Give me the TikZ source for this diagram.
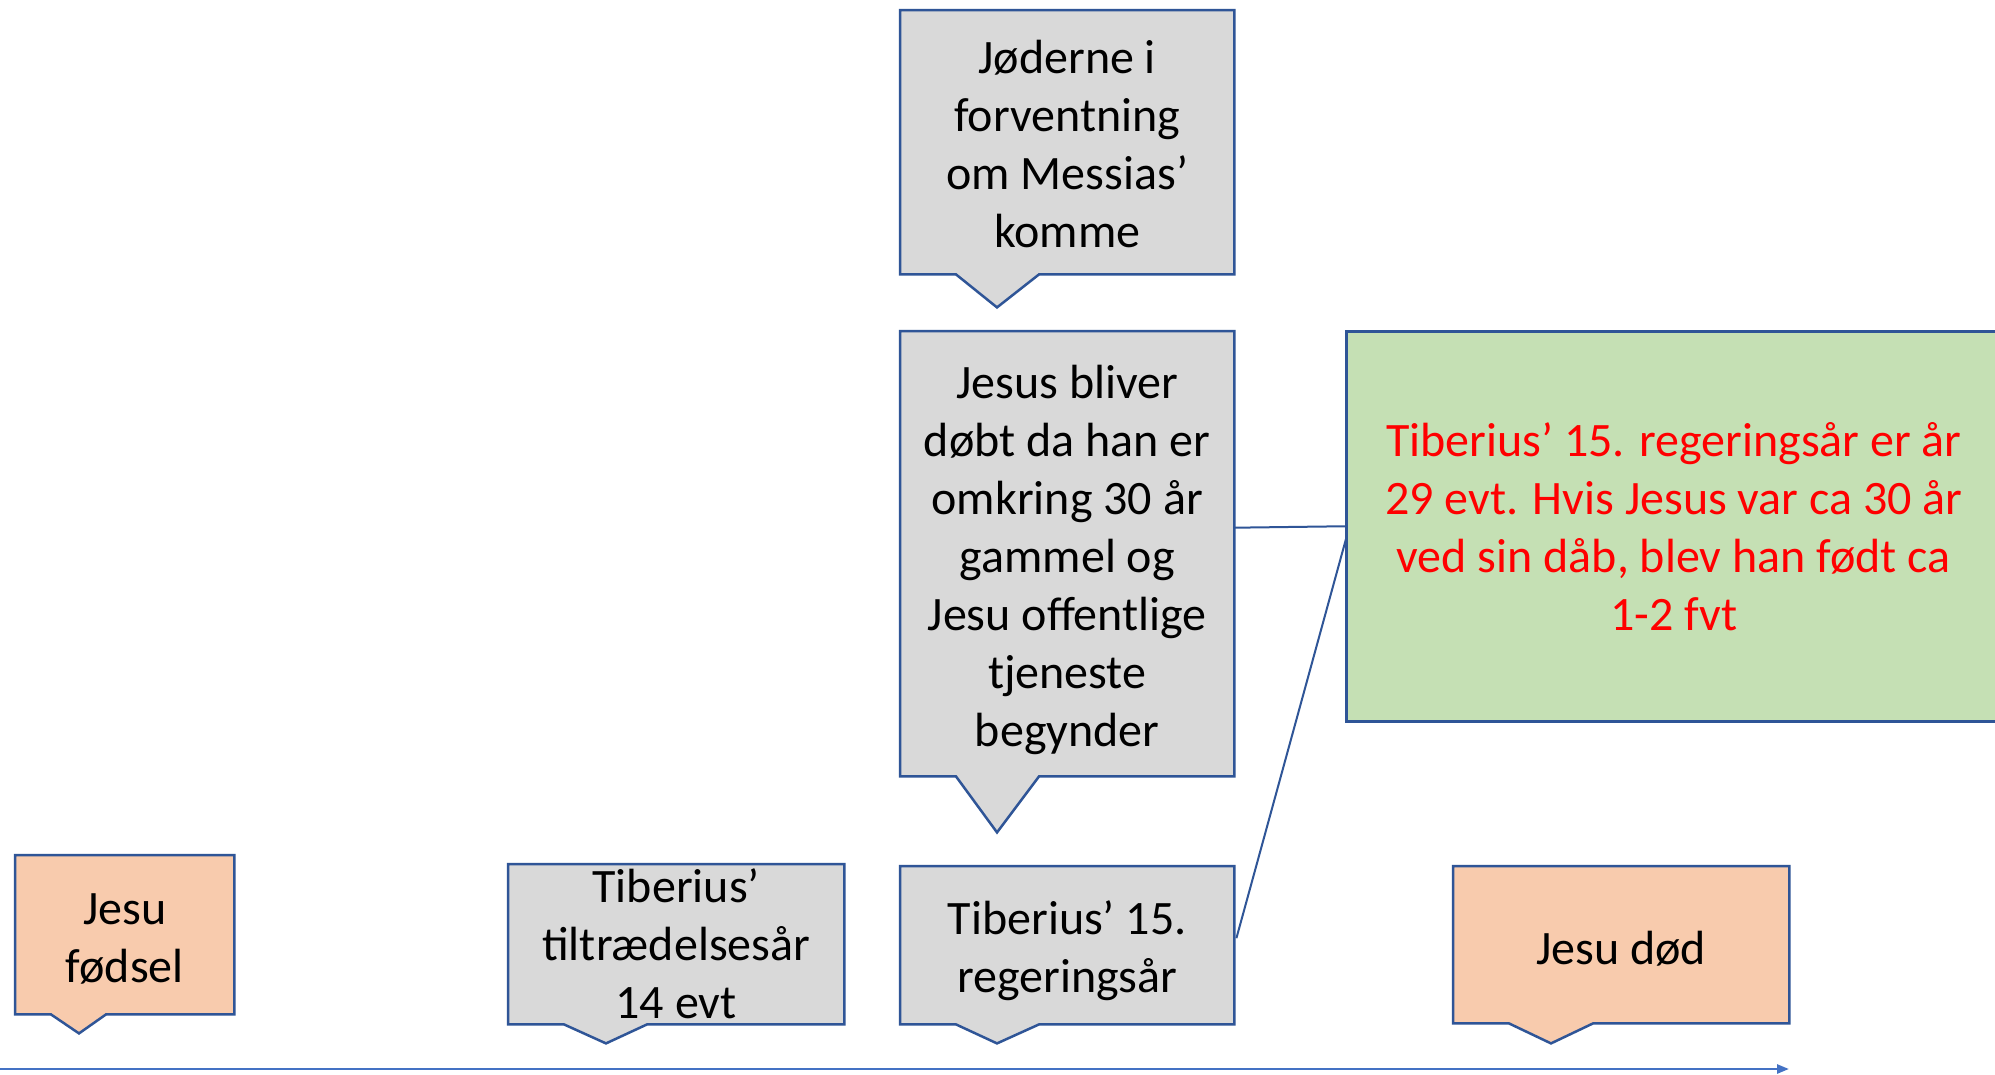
\documentclass[tikz,border=0pt]{standalone}
\usepackage{fontspec}
\setmainfont{Carlito}
\usetikzlibrary{calc,arrows.meta,backgrounds}
\definecolor{bord}{HTML}{2F5597}
\definecolor{gfill}{HTML}{D9D9D9}
\definecolor{pfill}{HTML}{F8CBAD}
\definecolor{grfill}{HTML}{C5E0B4}
\definecolor{axiscol}{HTML}{4472C4}
\tikzset{
  boxarea/.style={inner sep=0pt, anchor=north west},
  txt/.style={font=\fontsize{48}{58}\selectfont, align=center, inner sep=0pt},
  cbox/.style={draw=bord, line width=2.5pt, line join=miter},
  conn/.style={draw=bord, line width=2pt},
  axisline/.style={draw=axiscol, line width=2.5pt, -{Triangle[length=12pt,width=9pt]}},
}
\newcommand\mycallout[6]{%
  \begin{pgfonlayer}{background}
  \draw[cbox, fill=#2] (#1.north west) -- (#1.north east) -- (#1.south east)
    -- ($(#1.south west)+(#4,0)$) -- ($(#1.south west)+(#5,#6)$)
    -- ($(#1.south west)+(#3,0)$) -- (#1.south west) -- cycle;
  \end{pgfonlayer}}
\begin{document}
\begin{tikzpicture}[x=1pt,y=-1pt]
\useasboundingbox (0,0) rectangle (1995,1074);
\begin{pgfonlayer}{background}
\fill[white] (0,0) rectangle (1995,1074);
\end{pgfonlayer}

\node[boxarea, minimum width=334pt, minimum height=264pt] (jod) at (900,10) {};
\mycallout{jod}{gfill}{56}{139}{97}{33}
\node[txt, yshift=-2pt] (jodt) at (jod.center)
  {Jøderne i\\forventning\\om Messias’\\komme};

\node[boxarea, minimum width=334pt, minimum height=445pt] (bap) at (900,331) {};
\mycallout{bap}{gfill}{56}{139}{97}{56}
\node[txt, yshift=-6pt] (bapt) at (bap.center)
  {Jesus bliver\\døbt da han er\\omkring 30 år\\gammel og\\Jesu offentlige\\tjeneste\\begynder};

\node[boxarea, cbox, fill=grfill, minimum width=655pt, minimum height=390pt] (green) at (1345,330) {};
\node[txt, text=red] (greent) at (green.center)
  {Tiberius’ 15. regeringsår er år\\29 evt. Hvis Jesus var ca 30 år\\ved sin dåb, blev han født ca\\1-2 fvt};

\node[boxarea, minimum width=334pt, minimum height=158pt] (tib15) at (900,866) {};
\mycallout{tib15}{gfill}{56}{139}{97}{19}
\node[txt, yshift=-5pt] (tib15t) at (tib15.center) {Tiberius’ 15.\\regeringsår};

\node[boxarea, minimum width=336pt, minimum height=160pt] (tilt) at (508,864) {};
\mycallout{tilt}{gfill}{56}{139}{98}{19}
\node[txt] (tiltt) at (tilt.center) {Tiberius’\\tiltrædelsesår\\14 evt};

\node[boxarea, minimum width=219pt, minimum height=159pt] (fod) at (15,855) {};
\mycallout{fod}{pfill}{36}{91}{64}{19}
\node[txt, yshift=-4pt] (fodt) at (fod.center) {Jesu\\fødsel};

\node[boxarea, minimum width=336pt, minimum height=157pt] (dod) at (1453,866) {};
\mycallout{dod}{pfill}{56}{140}{98}{20}
\node[txt, yshift=-4pt] (dodt) at (dod.center) {Jesu død};

\draw[conn] ($(bap.east)+(0,-26)$) -- (green.west);
\draw[conn] ($(tib15.east)+(2,-7)$) -- ($(green.west)+(2,9)$);

\coordinate (ax0) at (0,1069);
\coordinate (ax1) at (1789,1069);
\draw[axisline] (ax0) -- (ax1);
\end{tikzpicture}
\end{document}
